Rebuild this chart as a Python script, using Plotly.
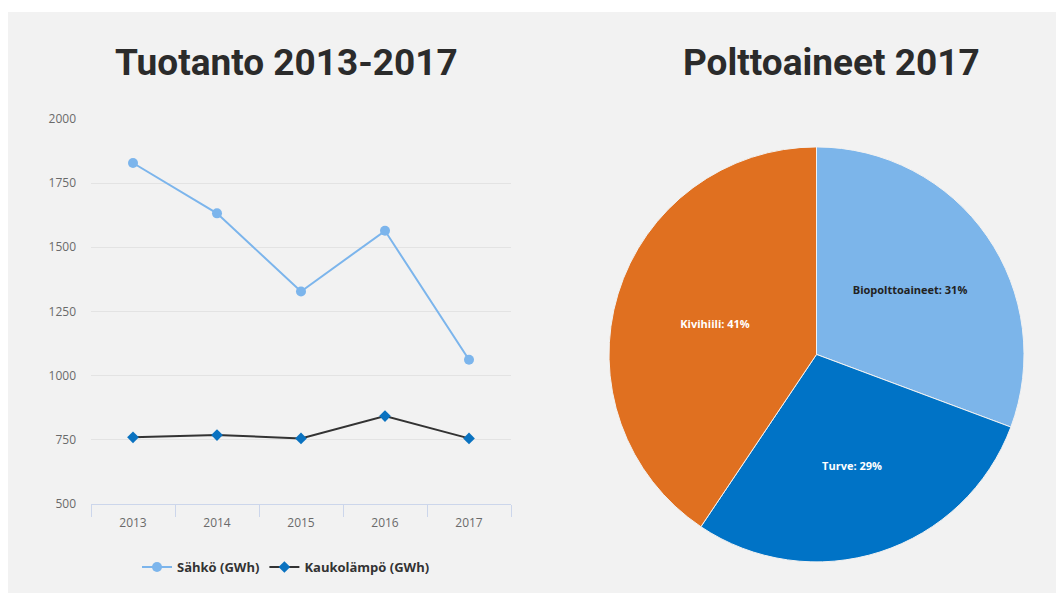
import plotly.graph_objects as go

years = ["2013", "2014", "2015", "2016", "2017"]
sahko = [1828, 1632, 1328, 1564, 1062]
kaukolampo = [760, 769, 756, 843, 756]

fuel_labels = ["Biopolttoaineet", "Turve", "Kivihiili"]
fuel_values = [31, 29, 41]
fuel_colors = ["#7cb5ea", "#0073c6", "#e07020"]
fuel_text_colors = ["#222222", "#ffffff", "#ffffff"]

W, H = 1056, 609
Y0, HE = 8, H - 16
def px(x): return x / W
def py(y): return 1 - (y - Y0) / HE

fig = go.Figure()

fig.add_trace(go.Scatter(
    x=years, y=sahko, name="<b>Sähkö (GWh)</b>", mode="lines+markers",
    line=dict(color="#7cb5ec", width=2),
    marker=dict(symbol="circle", size=10, color="#7cb5ec"),
    xaxis="x", yaxis="y",
))
fig.add_trace(go.Scatter(
    x=years, y=kaukolampo, name="<b>Kaukolämpö (GWh)</b>", mode="lines+markers",
    line=dict(color="#333333", width=2),
    marker=dict(symbol="diamond", size=9, color="#0a72c0"),
    xaxis="x", yaxis="y",
))

fig.add_trace(go.Pie(
    labels=fuel_labels, values=fuel_values,
    marker=dict(colors=fuel_colors, line=dict(color="#f2f2f2", width=1)),
    sort=False, direction="clockwise", rotation=0,
    texttemplate="<b>%{label}: %{value}%</b>", textposition="inside",
    insidetextorientation="horizontal",
    textfont=dict(family="Open Sans", size=11, color=fuel_text_colors),
    domain=dict(x=[px(609), px(1024)], y=[py(562), py(146)]),
    showlegend=False, hoverinfo="label+value",
))

fig.update_layout(
    width=W, height=H,
    margin=dict(l=0, r=0, t=0, b=0),
    paper_bgcolor="#ffffff",
    plot_bgcolor="rgba(0,0,0,0)",
    font=dict(family="Open Sans", color="#666666"),
    xaxis=dict(
        domain=[px(91), px(511)], type="category", range=[-0.5, 4.5],
        showline=True, linecolor="#ccd6eb", linewidth=1,
        ticks="outside", tickson="boundaries", ticklen=12, tickcolor="#ccd6eb",
        showgrid=False, tickfont=dict(size=12, color="#6a6a6a"),
        ticklabelstandoff=7,
        anchor="y",
    ),
    yaxis=dict(
        domain=[py(504), py(118)], range=[500, 2000],
        tickvals=[500, 750, 1000, 1250, 1500, 1750, 2000],
        showgrid=True, gridcolor="#e3e3e3", gridwidth=1,
        zeroline=False, showline=False,
        tickfont=dict(size=12, color="#6a6a6a"), ticklabelstandoff=14,
        anchor="x",
    ),
    legend=dict(
        orientation="h", x=px(286), y=py(567), xanchor="center", yanchor="middle",
        font=dict(size=13, color="#333333", family="Open Sans"),
        bgcolor="rgba(0,0,0,0)",
    ),
    shapes=[dict(
        type="rect", xref="paper", yref="paper",
        x0=px(8), x1=1, y0=0, y1=py(11),
        fillcolor="#f2f2f2", line=dict(width=0), layer="below",
    )],
    annotations=[
        dict(text="<b>Tuotanto 2013-2017</b>", x=px(286), y=py(62), xref="paper", yref="paper",
             showarrow=False, xanchor="center", yanchor="middle",
             font=dict(family="Roboto, sans-serif", size=37, color="#2b2b2b")),
        dict(text="<b>Polttoaineet 2017</b>", x=px(831), y=py(62), xref="paper", yref="paper",
             showarrow=False, xanchor="center", yanchor="middle",
             font=dict(family="Roboto, sans-serif", size=37, color="#2b2b2b")),
    ],
)

fig.write_html("out.html")
